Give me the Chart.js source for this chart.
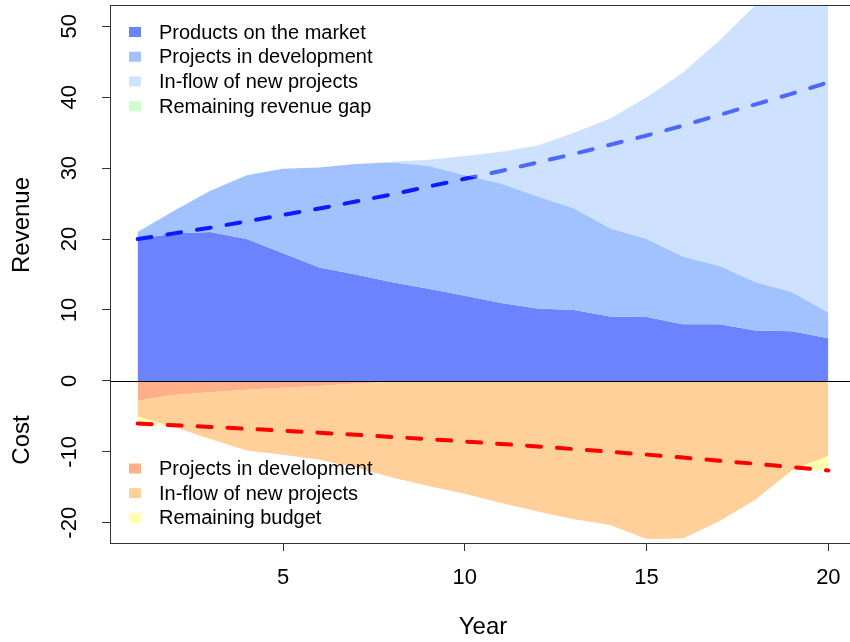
<!DOCTYPE html>
<html>
<head>
<meta charset="utf-8">
<script src="https://cdn.jsdelivr.net/npm/chart.js@4.4.1/dist/chart.umd.min.js"></script>
<style>
    html, body { margin: 0; padding: 0; background: #fff; overflow: hidden; }
    #wrap { width: 850px; height: 642px; overflow: hidden; }
</style>
</head>
<body>
<div id="wrap"><canvas id="revcost" width="860" height="642"></canvas></div>
<script>
var years = [1, 2, 3, 4, 5, 6, 7, 8, 9, 10, 11, 12, 13, 14, 15, 16, 17, 18, 19, 20];

// revenue parts (stacked)
var productsMarket = [20, 20.8, 21, 20, 18, 16, 15, 13.9, 13, 12, 11, 10.2, 10, 9.1, 9, 8, 8, 7.1, 7, 6];
var projectsDev = [1, 3.2, 5.8, 9, 11.9, 14.1, 15.6, 16.9, 17.3, 17, 16.8, 15.8, 14.3, 12.4, 11, 9.5, 8.2, 6.8, 5.5, 3.6];
var newProjects = [0, 0, 0, 0, 0, 0, 0, 0.1, 0.9, 2.7, 4.5, 7.2, 10.7, 15.5, 20, 26, 31.8, 39.1, 45.5, 53.4];
var revenueGap = [0, 0, 0, 0, 0, 0, 0, 0, 0, 0, 0, 0, 0, 0, 0, 0, 0, 0, 0, 0];
var revenueTarget = [20, 20.8, 21.6, 22.5, 23.4, 24.3, 25.3, 26.3, 27.4, 28.5, 29.6, 30.8, 32.0, 33.3, 34.6, 36.0, 37.5, 39.0, 40.5, 42.1];

// cost parts (stacked downwards)
var costDev = [-2.8, -2.0, -1.6, -1.25, -0.95, -0.7, -0.35, -0.1, 0, 0, 0, 0, 0, 0, 0, 0, 0, 0, 0, 0];
var costNew = [-2.2, -4.5, -6.6, -8.55, -9.45, -10.4, -11.85, -13.5, -14.8, -15.9, -17.2, -18.4, -19.5, -20.3, -22.3, -22.2, -19.8, -16.7, -12.6, -10.6];
var remainingBudget = [-1.0, 0, 0, 0, 0, 0, 0, 0, 0, 0, 0, 0, 0, 0, 0, 0, 0, 0, 0, -2.0];
var costTarget = [-6, -6.24, -6.49, -6.75, -7.02, -7.3, -7.59, -7.9, -8.21, -8.54, -8.88, -9.24, -9.61, -9.99, -10.39, -10.81, -11.24, -11.69, -12.16, -12.64];

var xTicks = [5, 10, 15, 20];
var yTicks = [-20, -10, 0, 10, 20, 30, 40, 50];

var revenueLabels = ["Products on the market", "Projects in development", "In-flow of new projects", "Remaining revenue gap"];
var costLabels = ["Projects in development", "In-flow of new projects", "Remaining budget"];
var revenueColors = ["#6b83ff", "#a1c1ff", "rgba(150,192,255,0.47)", "#ccffcc"];
var revenueKeyColors = ["#6b83ff", "#a1c1ff", "#cde3ff", "#ccffcc"];
var costColors = ["#ffb088", "#ffd09a", "#ffffb0"];

var fontName = '"Liberation Sans", Arial, sans-serif';

var cumulate = function (parts) {
    var out = [];
    var run = years.map(function () { return 0; });
    parts.forEach(function (p) {
        run = run.map(function (v, i) { return v + p[i]; });
        out.push(run.slice());
    });
    return out;
};

var pts = function (vals) {
    return years.map(function (y, i) { return { x: y, y: vals[i] }; });
};

var revStack = cumulate([productsMarket, projectsDev, newProjects, revenueGap]);
var costStack = cumulate([costDev, costNew, remainingBudget]);

var area = function (label, vals, color, fill, order) {
    return {
        label: label,
        data: pts(vals),
        backgroundColor: color,
        borderWidth: 0,
        pointRadius: 0,
        fill: fill,
        lineTension: 0,
        order: order
    };
};

var dashed = function (label, vals, color, order) {
    return {
        label: label,
        data: pts(vals),
        borderColor: color,
        borderWidth: 4,
        borderDash: [14, 16],
        borderCapStyle: 'round',
        pointRadius: 0,
        fill: false,
        lineTension: 0,
        order: order
    };
};

var datasets = [
    area(revenueLabels[0], revStack[0], revenueColors[0], 'origin', 9),
    area(revenueLabels[1], revStack[1], revenueColors[1], '-1', 8),
    area(revenueLabels[2], revStack[2], revenueColors[2], '-1', 6),
    area(revenueLabels[3], revStack[3], revenueColors[3], '-1', 5),
    area(costLabels[0], costStack[0], costColors[0], 'origin', 4),
    area(costLabels[1], costStack[1], costColors[1], '-1', 3),
    area(costLabels[2], costStack[2], costColors[2], '-1', 2),
    dashed("Revenue target", revenueTarget, "#0a1cff", 7),
    dashed("Cost target", costTarget, "#ff0000", 1)
];

// box, zero line, rotated y labels, axis titles and both keys
var decor = {
    id: 'decor',
    afterDatasetsDraw: function (chart) {
        var ctx = chart.ctx;
        var ca = chart.chartArea;
        var ys = chart.scales.y;
        ctx.save();
        ctx.strokeStyle = '#000';
        ctx.lineWidth = 1;
        var y0 = Math.round(ys.getPixelForValue(0)) + 0.5;
        ctx.beginPath();
        ctx.moveTo(ca.left, y0);
        ctx.lineTo(ca.right, y0);
        ctx.stroke();

        ctx.strokeStyle = '#333';
        ctx.strokeRect(Math.round(ca.left) + 0.5, Math.round(ca.top) + 0.5, Math.round(ca.right - ca.left), Math.round(ca.bottom - ca.top));

        ctx.fillStyle = '#000';
        ctx.textAlign = 'center';
        ctx.textBaseline = 'middle';
        ctx.font = '22px ' + fontName;
        yTicks.forEach(function (v) {
            ctx.save();
            ctx.translate(70, ys.getPixelForValue(v));
            ctx.rotate(-Math.PI / 2);
            ctx.fillText(String(v), 0, 0);
            ctx.restore();
        });

        ctx.font = '24px ' + fontName;
        [["Revenue", 225], ["Cost", 440]].forEach(function (t) {
            ctx.save();
            ctx.translate(22, t[1]);
            ctx.rotate(-Math.PI / 2);
            ctx.fillText(t[0], 0, 0);
            ctx.restore();
        });

        ctx.font = '20px ' + fontName;
        ctx.textAlign = 'left';
        var key = function (labels, colors, top) {
            labels.forEach(function (l, i) {
                var cy = top + i * 24.7;
                ctx.fillStyle = colors[i];
                ctx.fillRect(129, cy - 5, 12, 10);
                ctx.fillStyle = '#000';
                ctx.fillText(l, 159, cy + 1);
            });
        };
        key(revenueLabels, revenueKeyColors, 32);
        key(costLabels, costColors, 468.5);
        ctx.restore();
    }
};

var ctxl = document.getElementById('revcost');
var myChart = new Chart(ctxl, {
    type: 'line',
    data: { datasets: datasets },
    options: {
        responsive: false,
        animation: false,
        devicePixelRatio: 1,
        layout: { padding: { top: 5, right: 4, left: 0, bottom: 0 } },
        plugins: {
            legend: { display: false },
            tooltip: { enabled: false }
        },
        scales: {
            x: {
                type: 'linear',
                min: 0.24,
                max: 20.76,
                afterBuildTicks: function (scale) {
                    scale.ticks = xTicks.map(function (v) { return { value: v }; });
                },
                afterFit: function (scale) { scale.height = 99; },
                border: { display: false },
                grid: { drawOnChartArea: false, drawTicks: true, tickLength: 8, color: '#333' },
                ticks: {
                    color: '#000',
                    font: { family: fontName, size: 22 },
                    padding: 14,
                    maxRotation: 0
                },
                title: {
                    display: true,
                    text: 'Year',
                    color: '#000',
                    font: { family: fontName, size: 24 },
                    padding: 0
                }
            },
            y: {
                type: 'linear',
                min: -22.85,
                max: 53,
                afterBuildTicks: function (scale) {
                    scale.ticks = yTicks.map(function (v) { return { value: v }; });
                },
                afterFit: function (scale) { scale.width = 110; },
                border: { display: false },
                grid: { drawOnChartArea: false, drawTicks: true, tickLength: 8, color: '#333' },
                ticks: { display: false }
            }
        }
    },
    plugins: [decor]
});
</script>
</body>
</html>
